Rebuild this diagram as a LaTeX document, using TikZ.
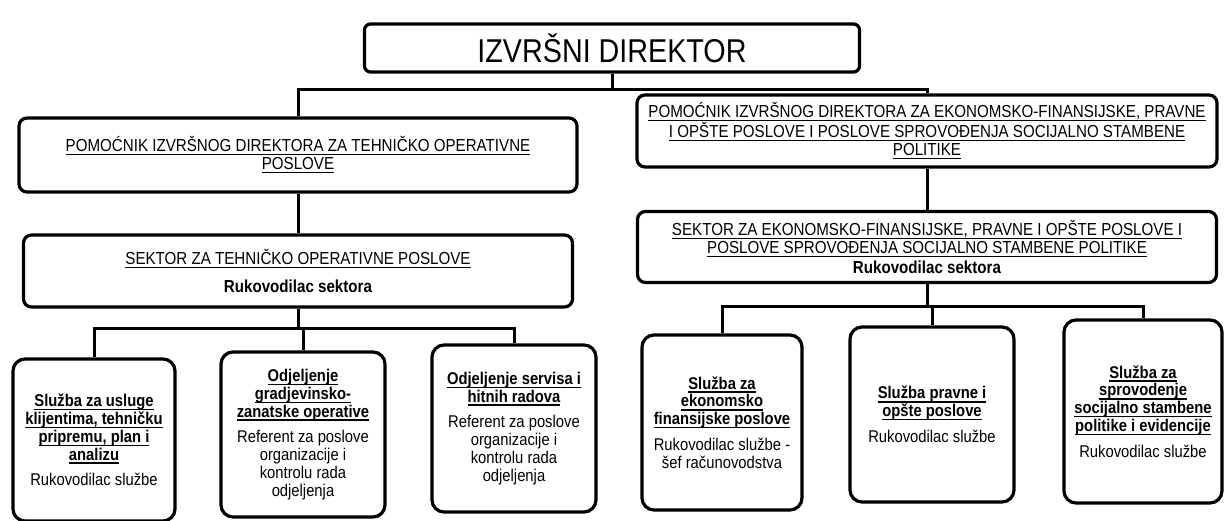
\documentclass[tikz,border=0pt]{standalone}
\usepackage{fontspec}
\setmainfont{Liberation Sans}[FakeStretch=0.87]
\newcommand\ulin[1]{\setbox0\hbox{#1}\leavevmode\rlap{\rule[-3.6pt]{\wd0}{1.3pt}}\box0}
\begin{document}
\begin{tikzpicture}[x=1pt,y=-1pt,
  box/.style={draw, line width=3.2pt, rounded corners=#1, align=center, inner sep=0pt},
  box/.default=8pt,
  conn/.style={draw, line width=3pt},
  capsf/.style={font=\fontsize{17.4}{18}\selectfont},
  smallf/.style={font=\fontsize{17}{17.8}\selectfont}]
\useasboundingbox (0,0) rectangle (1224,521);
\fill[white] (0,0) rectangle (1224,521);

% top
\node[box=6pt, minimum width=495pt, minimum height=48pt, font=\fontsize{33}{38}\selectfont] (dir) at (612,48) {IZVRŠNI DIREKTOR};

% assistants
\node[box=8pt, capsf, minimum width=558pt, minimum height=74pt] (lp) at (298,155)
  {\ulin{POMOĆNIK IZVRŠNOG DIREKTORA ZA TEHNIČKO OPERATIVNE}\\\ulin{POSLOVE}};
\node[box=8pt, capsf, minimum width=580pt, minimum height=72pt] (rp) at (927,131)
  {\ulin{POMOĆNIK IZVRŠNOG DIREKTORA ZA EKONOMSKO-FINANSIJSKE, PRAVNE}\\
   \ulin{I OPŠTE POSLOVE I POSLOVE SPROVOĐENJA SOCIJALNO STAMBENE}\\
   \ulin{POLITIKE}};

% sectors
\node[box=8pt, capsf, minimum width=549pt, minimum height=72pt] (ls) at (298,271)
  {\ulin{SEKTOR ZA TEHNIČKO OPERATIVNE POSLOVE}\\[10pt]\textbf{Rukovodilac sektora}};
\node[box=8pt, capsf, minimum width=579pt, minimum height=71pt] (rs) at (927,247)
  {\ulin{SEKTOR ZA EKONOMSKO-FINANSIJSKE, PRAVNE I OPŠTE POSLOVE I}\\
   \ulin{POSLOVE SPROVOĐENJA SOCIJALNO STAMBENE POLITIKE}\\[2pt]
   \textbf{Rukovodilac sektora}};

% bottom units
\node[box=12pt, smallf, minimum width=162pt, minimum height=162pt] (b1) at (94,440)
  {\textbf{\ulin{Služba za usluge}}\\\textbf{\ulin{klijentima, tehničku}}\\\textbf{\ulin{pripremu, plan i}}\\\textbf{\ulin{analizu}}\\[8pt]Rukovodilac službe};
\node[box=12pt, smallf, minimum width=164pt, minimum height=165pt] (b2) at (303,434.5)
  {\textbf{\ulin{Odjeljenje}}\\\textbf{\ulin{gradjevinsko-}}\\\textbf{\ulin{zanatske operative}}\\[8pt]Referent za poslove\\organizacije i\\kontrolu rada\\odjeljenja};
\node[box=12pt, smallf, minimum width=164pt, minimum height=167pt] (b3) at (514,428.5)
  {\textbf{\ulin{Odjeljenje servisa i}}\\\textbf{\ulin{hitnih radova}}\\[8pt]Referent za poslove\\organizacije i\\kontrolu rada\\odjeljenja};
\node[box=12pt, smallf, minimum width=160pt, minimum height=175pt] (b4) at (722,422.5)
  {\textbf{\ulin{Služba za}}\\\textbf{\ulin{ekonomsko}}\\\textbf{\ulin{finansijske poslove}}\\[8pt]Rukovodilac službe -\\šef računovodstva};
\node[box=12pt, smallf, minimum width=164pt, minimum height=175pt] (b5) at (932,414.5)
  {\textbf{\ulin{Služba pravne i}}\\\textbf{\ulin{opšte poslove}}\\[8pt]Rukovodilac službe};
\node[box=12pt, smallf, minimum width=158pt, minimum height=183pt] (b6) at (1143,411.5)
  {\textbf{\ulin{Služba za}}\\\textbf{\ulin{sprovodenje}}\\\textbf{\ulin{socijalno stambene}}\\\textbf{\ulin{politike i evidencije}}\\[8pt]Rukovodilac službe};

% connectors
\coordinate (bus0) at (612,90);
\coordinate (busL) at (298,329);
\coordinate (busR) at (927,307);
\draw[conn] (dir.south) -- (dir.south |- bus0);
\draw[conn] (lp.north) |- (rp.north |- bus0) -- (rp.north);
\draw[conn] (lp.south) -- (ls.north);
\draw[conn] (rp.south) -- (rs.north);
\draw[conn] (ls.south) -- (ls.south |- busL);
\draw[conn] (b1.north) |- (b3.north |- busL) -- (b3.north);
\draw[conn] (b2.north) -- (b2.north |- busL);
\draw[conn] (rs.south) -- (rs.south |- busR);
\draw[conn] (b4.north) |- (b6.north |- busR) -- (b6.north);
\draw[conn] (b5.north) -- (b5.north |- busR);
\end{tikzpicture}
\end{document}
